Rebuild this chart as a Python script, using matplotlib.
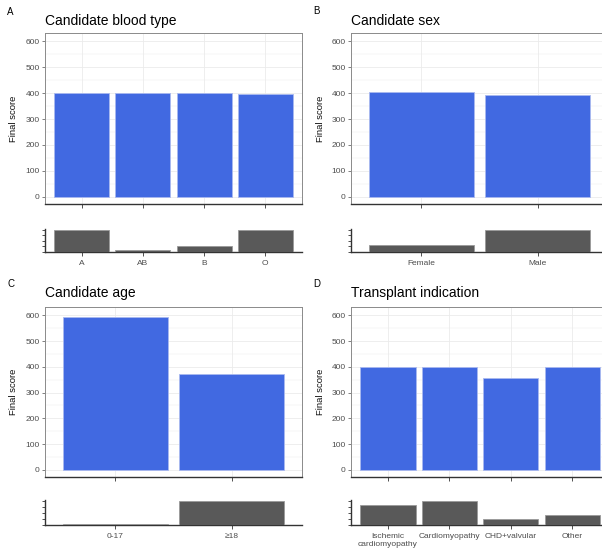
import matplotlib
matplotlib.use("Agg")
import matplotlib.pyplot as plt
import numpy as np

plt.rcParams['font.family'] = ['Liberation Sans', 'DejaVu Sans']

# ---- data ----
blood_cats = ["A", "AB", "B", "O"]
blood_score = [400, 401, 399, 395]
blood_count = [100, 8, 25, 100]

sex_cats = ["Female", "Male"]
sex_score = [404, 392]
sex_count = [32, 100]

age_cats = ["0-17", "\u226518"]
age_score = [594, 370]
age_count = [4, 100]

ind_cats = ["Ischemic\ncardiomyopathy", "Cardiomyopathy", "CHD+valvular", "Other"]
ind_score = [398, 398, 356, 398]
ind_count = [83, 100, 24, 40]

titles = ["Candidate blood type", "Candidate sex", "Candidate age", "Transplant indication"]
letters = ["A", "B", "C", "D"]

W, H = 602, 550
fig = plt.figure(figsize=(W / 100, H / 100), dpi=100)


def px(l, t, r, b):
    return [l / W, 1 - b / H, (r - l) / W, (b - t) / H]


BLUE = "#4169E1"
GREY = "#595959"

panels = [
    (blood_cats, blood_score, blood_count, (45, 33, 302, 204), (45, 229, 302, 252), (7, 15), (45, 25), 18.5),
    (sex_cats, sex_score, sex_count, (351, 33, 608, 204), (351, 229, 608, 252), (313, 14), (351, 25), 325),
    (age_cats, age_score, age_count, (45, 307, 302, 477), (45, 500, 302, 525), (8, 287), (45, 297), 18.5),
    (ind_cats, ind_score, ind_count, (351, 307, 609, 477), (351, 500, 609, 525), (313, 287), (351, 297), 325),
]

for i, (cats, score, count, mainpos, smallpos, letpos, titpos, ylx) in enumerate(panels):
    n = len(cats)
    x = np.arange(1, n + 1)
    ax = fig.add_axes(px(*mainpos))
    ax.set_axisbelow(True)
    ax.bar(x, score, width=0.9, color=BLUE, edgecolor="#a9b9f0", linewidth=0.6, zorder=3)
    ax.set_xlim(0.4, n + 0.6)
    ax.set_ylim(-28, 632)
    ax.set_yticks(np.arange(0, 601, 100))
    ax.set_yticks(np.arange(50, 601, 100), minor=True)
    ax.set_xticks(x)
    ax.set_xticklabels([])
    ax.grid(which="major", color="#EBEBEB", linewidth=0.6)
    ax.grid(which="minor", axis="y", color="#EBEBEB", linewidth=0.3)
    ax.tick_params(axis="y", which="minor", length=0)
    ax.tick_params(axis="y", which="major", labelsize=6, colors="#4D4D4D", length=2.5, width=0.5, pad=1.5)
    ax.tick_params(axis="x", which="major", length=3, width=0.6, color="#333333")
    for s in ["left", "top", "right"]:
        ax.spines[s].set_color("#8a8a8a")
        ax.spines[s].set_linewidth(0.7)
    ax.spines["bottom"].set_color("#333333")
    ax.spines["bottom"].set_linewidth(1.0)
    ax.set_ylabel("Final score", fontsize=6.8, color="#111111", fontweight="normal")
    ax.yaxis.set_label_coords((ylx - mainpos[0]) / (mainpos[2] - mainpos[0]), 0.5)

    axs = fig.add_axes(px(*smallpos))
    axs.bar(x, count, width=0.9, color=GREY, edgecolor="#9a9a9a", linewidth=0.6, zorder=3)
    axs.set_xlim(0.4, n + 0.6)
    mx = max(count)
    axs.set_ylim(0, mx * 1.03)
    axs.set_yticks(np.linspace(0, mx, 5))
    axs.set_yticklabels([])
    axs.set_xticks(x)
    axs.set_xticklabels(cats, fontsize=6, color="#4D4D4D", linespacing=1.25)
    axs.tick_params(axis="y", length=2.5, width=0.6, color="#333333")
    axs.tick_params(axis="x", length=3, width=0.6, color="#333333", pad=2.5)
    axs.spines["top"].set_visible(False)
    axs.spines["right"].set_visible(False)
    axs.spines["left"].set_color("#333333")
    axs.spines["bottom"].set_color("#333333")
    axs.spines["left"].set_linewidth(1.0)
    axs.spines["bottom"].set_linewidth(1.0)
    axs.patch.set_alpha(0)

    fig.text(letpos[0] / W, 1 - letpos[1] / H, letters[i], fontsize=7, va="baseline", ha="left")
    fig.text(titpos[0] / W, 1 - titpos[1] / H, titles[i], fontsize=10, va="baseline", ha="left")

fig.savefig("out.png", dpi=100)
